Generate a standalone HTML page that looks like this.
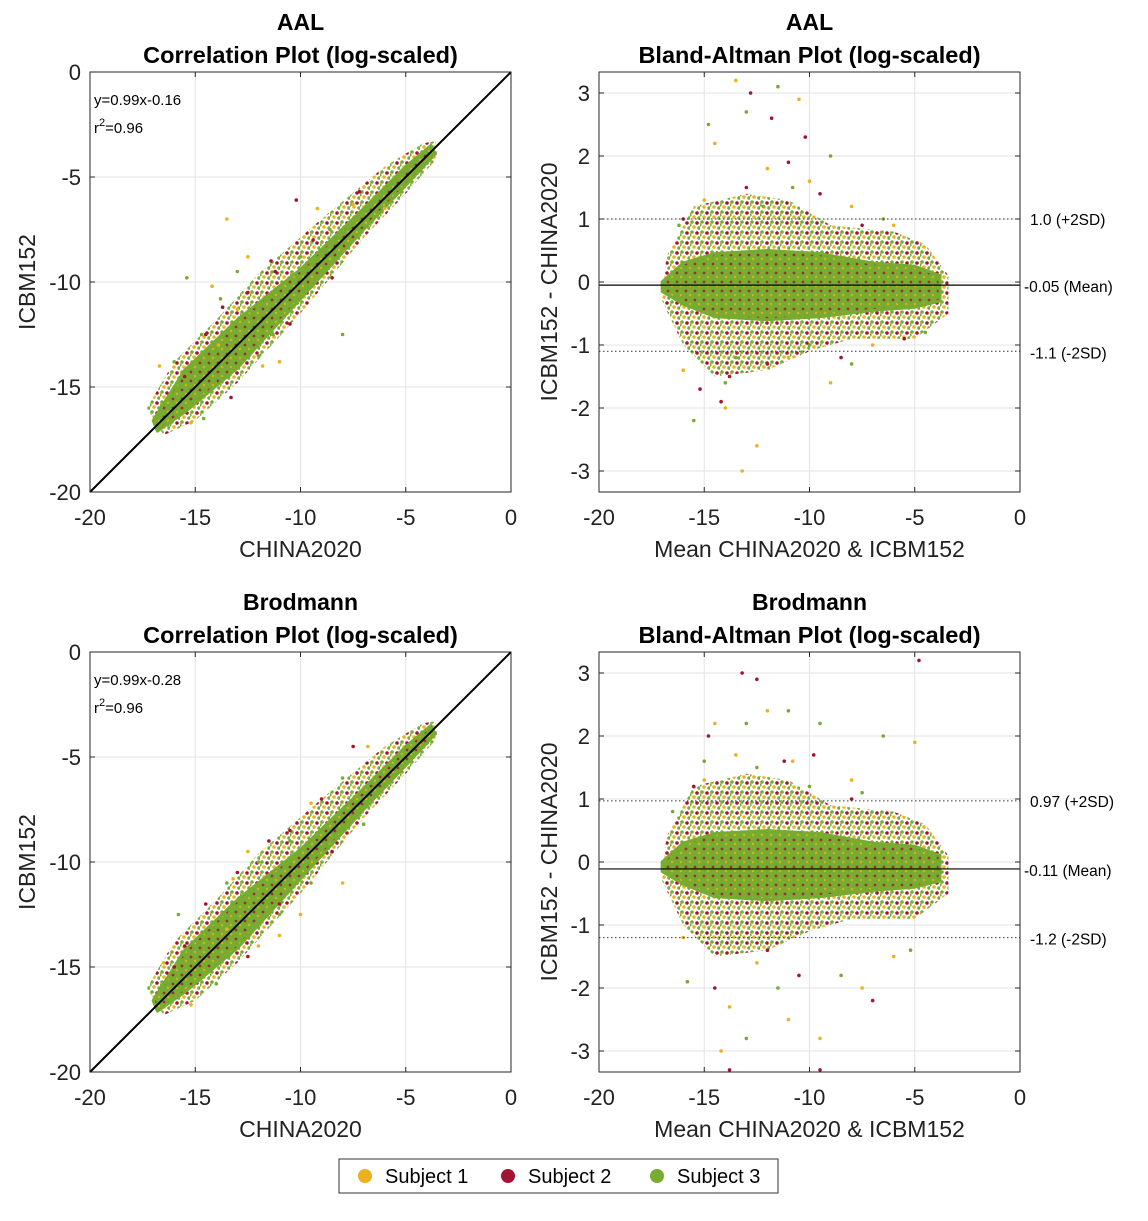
<!DOCTYPE html>
<html><head><meta charset="utf-8">
<style>
body{margin:0;background:#fff;}
svg text{font-family:"Liberation Sans",Arial,sans-serif;}
</style></head>
<body>
<svg id="fig" width="1148" height="1216" viewBox="0 0 1148 1216" xmlns="http://www.w3.org/2000/svg">
<defs>
<pattern id="haloPat" width="10" height="10" patternUnits="userSpaceOnUse">
<circle cx="2" cy="2" r="1.8" fill="#77AC30"/><circle cx="7" cy="3" r="1.8" fill="#A2142F"/>
<circle cx="4" cy="7" r="1.8" fill="#EDB120"/><circle cx="9" cy="8" r="1.8" fill="#77AC30"/>
<circle cx="0" cy="5" r="1.6" fill="#77AC30"/>
</pattern>
<pattern id="corePat" width="9" height="9" patternUnits="userSpaceOnUse">
<rect width="9" height="9" fill="#77AC30"/>
<circle cx="2" cy="3" r="1.4" fill="#A2142F" opacity="0.8"/><circle cx="6" cy="7" r="1.2" fill="#EDB120" opacity="0.8"/>
</pattern>
</defs>
<g id="layer"></g>
<g>
<rect x="339" y="1159" width="439" height="34" fill="#fff" stroke="#333" stroke-width="1"/>
<circle cx="365" cy="1176" r="7" fill="#EDB120"/><text x="385" y="1183" font-size="20">Subject 1</text>
<circle cx="508" cy="1176" r="7" fill="#A2142F"/><text x="528" y="1183" font-size="20">Subject 2</text>
<circle cx="657" cy="1176" r="7" fill="#77AC30"/><text x="677" y="1183" font-size="20">Subject 3</text>
</g>
</svg>
<script>
// ---------- data ----------
const colors = ['#EDB120','#A2142F','#77AC30'];
const xTicks = [-20,-15,-10,-5,0];
const yTicksCorr = [0,-5,-10,-15,-20];
const yTicksBA = [3,2,1,0,-1,-2,-3];
// correlation dense core band edges (x, y)
const corrUpper = [[-17,-16.6],[-15.5,-14.2],[-13,-11.8],[-10,-9.4],[-7,-6.5],[-5,-4.5],[-3.8,-3.5]];
const corrLower = [[-3.6,-3.9],[-5,-5.4],[-7,-7.5],[-10,-10.8],[-13,-14.1],[-15.5,-16.2],[-16.8,-17.1]];
// correlation sparse halo edges
const corrHaloUpper = [[-17.3,-16],[-16,-13.8],[-14,-11.8],[-12,-9.6],[-9,-7],[-6,-4.5],[-4.2,-3.4],[-3.6,-3.3]];
const corrHaloLower = [[-3.5,-4.1],[-5,-5.8],[-7,-7.9],[-10,-11.5],[-13,-14.8],[-15,-16.6],[-16.5,-17.3]];
// Bland-Altman dense core edges
const baUpper = [[-17,0.0],[-16,0.3],[-14.5,0.45],[-12,0.5],[-9.5,0.45],[-7,0.3],[-5,0.25],[-3.8,0.1]];
const baLower = [[-3.8,-0.3],[-5,-0.4],[-7,-0.45],[-9.5,-0.55],[-12,-0.6],[-14.5,-0.55],[-16,-0.35],[-17,-0.15]];
// Bland-Altman sparse halo edges
const baHaloUpper = [[-16.8,0.4],[-15.5,1.2],[-13,1.4],[-11,1.3],[-9,0.9],[-6,0.8],[-4.5,0.6],[-3.4,0.1]];
const baHaloLower = [[-3.4,-0.5],[-5,-0.9],[-8,-0.9],[-10,-1.1],[-12,-1.4],[-14.5,-1.5],[-16,-1.0],[-17,-0.3]];
// outliers per panel per subject
const aalCorr = [
 [[-13.5,-7],[-9.2,-6.5],[-16.7,-14],[-14.2,-10.2],[-12.5,-8.8],[-11,-13.8],[-11.8,-14],[-15.2,-16.7],[-13,-11.3],[-7.5,-6.3],[-13.9,-13],[-6,-6.5]],
 [[-10.2,-6.1],[-11.2,-9.5],[-13.7,-11.2],[-14.5,-12.5],[-11.4,-9],[-7.2,-5.7],[-9.4,-8],[-12.5,-10.5],[-15.5,-14.5],[-13.3,-15.5],[-8.5,-9.8],[-10.5,-12]],
 [[-15.4,-9.8],[-11.3,-12.5],[-13.8,-10.8],[-16,-13.8],[-8.6,-7.5],[-13,-9.5],[-14.7,-12.5],[-16.3,-16.8],[-10,-8.8],[-12,-13.5],[-14.6,-16.5],[-8,-12.5]]
];
const brCorr = [
 [[-12.5,-9.5],[-9.5,-7.2],[-16.5,-14.8],[-13.2,-10.8],[-11,-13.5],[-12,-14],[-6.8,-4.5],[-15.2,-16.8],[-8,-11],[-10,-12.5],[-13.5,-13.2]],
 [[-14.5,-12],[-11.5,-9],[-13,-10.5],[-10.5,-8.5],[-7.5,-4.5],[-9,-7],[-15.5,-14],[-12.5,-14.5],[-16,-15],[-8.5,-9.5],[-11,-12]],
 [[-15.8,-12.5],[-13.5,-11],[-11,-12.5],[-8,-6],[-6.5,-6.8],[-14,-15.8],[-9.5,-11],[-12,-10],[-16.5,-16.8],[-10.5,-9],[-7,-8.2]]
];
const aalBA = [
 [[-13.5,3.2],[-14.5,2.2],[-12,1.8],[-10.5,2.9],[-15,1.3],[-12.5,-2.6],[-13.2,-3.0],[-16,-1.4],[-11,-1.2],[-9,-1.6],[-7,-1.0],[-14,-2.0],[-10,1.6],[-6,0.9],[-8,1.2]],
 [[-12.8,3.0],[-11.8,2.6],[-10.2,2.3],[-13,1.5],[-15.2,-1.7],[-14.2,-1.9],[-12,-1.3],[-9.5,1.4],[-11,1.9],[-8.5,-1.2],[-16,1.0],[-13.8,-1.5],[-7.5,0.9],[-5.5,-0.9]],
 [[-14.8,2.5],[-13,2.7],[-11.5,3.1],[-10.8,1.5],[-15.5,-2.2],[-14,-1.6],[-12.2,1.2],[-9,2.0],[-16.2,0.9],[-8,-1.3],[-13.5,-1.2],[-6.5,1.0],[-10,-1.0],[-4.5,-0.8]]
];
const brBA = [
 [[-14.5,2.2],[-13.5,1.7],[-12,2.4],[-10.8,1.6],[-15,1.3],[-13.8,-2.3],[-14.2,-3.0],[-11,-2.5],[-9.5,-2.8],[-7.5,-2.0],[-16,-1.2],[-5,1.9],[-8,1.3],[-6,-1.5],[-12.5,-1.6]],
 [[-13.2,3.0],[-12.5,2.9],[-14.8,2.0],[-11.2,1.6],[-13.8,-3.3],[-14.5,-2.0],[-9.5,-3.3],[-12,-1.4],[-9.8,1.7],[-7,-2.2],[-4.8,3.2],[-10.5,-1.8],[-15.5,1.2],[-8,1.0]],
 [[-15,1.6],[-13,2.2],[-11,2.4],[-9.5,2.2],[-15.8,-1.9],[-13,-2.8],[-11.5,-2.0],[-8.5,-1.8],[-6.5,2.0],[-5.2,-1.4],[-10,1.2],[-12.5,1.5],[-16.5,0.8],[-7.5,1.1]]
];
const baStats = [[-0.05,1.0,-1.1,'1.0 (+2SD)','-0.05 (Mean)','-1.1 (-2SD)'],[-0.11,0.97,-1.2,'0.97 (+2SD)','-0.11 (Mean)','-1.2 (-2SD)']];
const fits = [['y=0.99x-0.16','0.96'],['y=0.99x-0.28','0.96']];
const atlases = ['AAL','Brodmann'];

// ---------- drawing ----------
const NS='http://www.w3.org/2000/svg';
const layer=document.getElementById('layer');
function el(tag,attrs,parent,txt){const e=document.createElementNS(NS,tag);for(const k in attrs)e.setAttribute(k,attrs[k]);if(txt!==undefined)e.textContent=txt;(parent||layer).appendChild(e);return e;}

function panel(left,top,type,row){
  const W=421,H=420;
  const g=el('g',{});
  
  
  const sx=v=>left+(v+20)/20*W;
  let sy;
  if(type==='corr') sy=v=>top+(-v)/20*H;
  else sy=v=>top+210-v*63;
  // grid
  xTicks.forEach(t=>{el('line',{x1:sx(t),x2:sx(t),y1:top,y2:top+H,stroke:'#e3e3e3'},g);});
  const yt=type==='corr'?yTicksCorr:yTicksBA;
  yt.forEach(t=>{el('line',{x1:left,x2:left+W,y1:sy(t),y2:sy(t),stroke:'#e3e3e3'},g);});
  const toPts=(a,b)=>a.concat(b).map(p=>sx(p[0])+','+sy(p[1])).join(' ');
  const hu=type==='corr'?corrHaloUpper:baHaloUpper, hl=type==='corr'?corrHaloLower:baHaloLower;
  const halo=el('polygon',{points:toPts(hu,hl),fill:'url(#haloPat)','stroke':'none'},g);
  
  
  const up=type==='corr'?corrUpper:baUpper, lo=type==='corr'?corrLower:baLower;
  const core=el('polygon',{points:toPts(up,lo),fill:'url(#corePat)',stroke:'#77AC30','stroke-width':3,'stroke-linejoin':'round'},g);
  
  
  // outliers
  const data=type==='corr'?(row?brCorr:aalCorr):(row?brBA:aalBA);
  data.forEach((arr,si)=>arr.forEach(p=>{
    const c=el('circle',{cx:sx(p[0]),cy:sy(p[1]),r:1.8,fill:colors[si]},g);
    
    
  }));
  if(type==='corr'){
    el('line',{x1:sx(-20),y1:sy(-20),x2:sx(0),y2:sy(0),stroke:'#000','stroke-width':2},g);
    el('text',{x:left+4,y:top+33,'font-size':15},g,fits[row][0]);
    const t=el('text',{x:left+4,y:top+61,'font-size':15},g,'r');
    el('tspan',{dy:-7,'font-size':11},t,'2');
    el('tspan',{dy:7},t,'=0.96');
  } else {
    const s=baStats[row];
    el('line',{x1:left,x2:left+W,y1:sy(s[0]),y2:sy(s[0]),stroke:'#000','stroke-width':1.2},g);
    el('line',{x1:left,x2:left+W,y1:sy(s[1]),y2:sy(s[1]),stroke:'#333','stroke-dasharray':'1.5,2.5'},g);
    el('line',{x1:left,x2:left+W,y1:sy(s[2]),y2:sy(s[2]),stroke:'#333','stroke-dasharray':'1.5,2.5'},g);
    el('text',{x:left+W+10,y:sy(s[1])+6,'font-size':15.5},g,s[3]);
    el('text',{x:left+W+4,y:sy(s[0])+7,'font-size':15.5},g,s[4]);
    el('text',{x:left+W+10,y:sy(s[2])+7,'font-size':15.5},g,s[5]);
  }
  // box
  el('rect',{x:left,y:top,width:W,height:H,fill:'none',stroke:'#262626','stroke-width':1},g);
  // ticks
  xTicks.forEach(t=>{
    el('line',{x1:sx(t),x2:sx(t),y1:top+H,y2:top+H-5,stroke:'#262626'},g);
    el('line',{x1:sx(t),x2:sx(t),y1:top,y2:top+5,stroke:'#262626'},g);
    el('text',{x:sx(t),y:top+H+33,'font-size':22,'text-anchor':'middle',fill:'#222'},g,String(t));
  });
  yt.forEach(t=>{
    el('line',{x1:left,x2:left+5,y1:sy(t),y2:sy(t),stroke:'#262626'},g);
    el('line',{x1:left+W,x2:left+W-5,y1:sy(t),y2:sy(t),stroke:'#262626'},g);
    el('text',{x:left-9,y:sy(t)+8,'font-size':22,'text-anchor':'end',fill:'#222'},g,String(t));
  });
  // labels
  const cx=left+W/2;
  el('text',{x:cx,y:top-42,'font-size':23,'font-weight':'bold','text-anchor':'middle'},g,atlases[row]);
  el('text',{x:cx,y:top-9,'font-size':23.5,'font-weight':'bold','text-anchor':'middle'},g,type==='corr'?'Correlation Plot (log-scaled)':'Bland-Altman Plot (log-scaled)');
  el('text',{x:cx,y:top+H+65,'font-size':23,'text-anchor':'middle',fill:'#222'},g,type==='corr'?'CHINA2020':'Mean CHINA2020 & ICBM152');
  const ylx=type==='corr'?left-55:left-42;
  el('text',{x:ylx,y:top+H/2,'font-size':23,'text-anchor':'middle',fill:'#222',transform:`rotate(-90 ${ylx} ${top+H/2})`},g,type==='corr'?'ICBM152':'ICBM152 - CHINA2020');
}
panel(90,72,'corr',0);
panel(599,72,'ba',0);
panel(90,652,'corr',1);
panel(599,652,'ba',1);
</script>
</body></html>
